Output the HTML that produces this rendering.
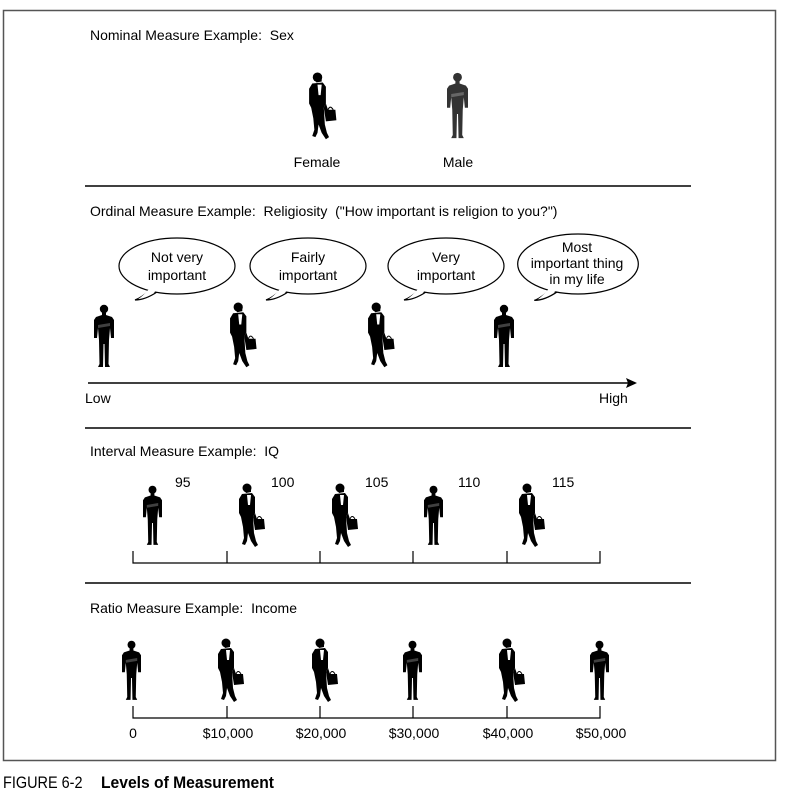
<!DOCTYPE html>
<html><head><meta charset="utf-8"><style>
body{margin:0;background:#fff;width:788px;height:798px;position:relative;overflow:hidden;font-family:"Liberation Sans",Arial,sans-serif;color:#000}
.t{position:absolute;font-size:14px;white-space:nowrap}
.c{transform:translateX(-50%)}
</style></head><body>
<svg width="788" height="798" style="position:absolute;left:0;top:0">
<defs>
<g id="m">
<circle cx="10" cy="5" r="4.2"/>
<path d="M8,8 L12,8 L12,11 L18,13 L20,16 L20,34 L17,34 L16,24 L15,36 L14.5,60 L16,63 L11,63 L10.5,40 L9.5,40 L9,63 L4,63 L5.5,60 L5,36 L4,24 L3,34 L0,34 L0,16 L2,13 L8,11Z"/>
<path d="M4,21 L16,19 L16,22 L4,24Z" fill="#fff" opacity="0.25"/>
</g>
<g id="f">
<circle cx="10" cy="5" r="4.5"/>
<path d="M6,3 Q9,-1 14,3 L14,9 L9,10Z"/>
<path d="M5,11 L15,10 L18,14 L18,30 L16,34 L17,50 L19,58 L21,62 L18,64 L14,58 L11,50 L10,58 L8,62 L5,61 L7,55 L6,44 L4,34 L2,30 L2,16Z"/>
<path d="M10,12 L14,12 L13,22 L11,22Z" fill="#fff"/>
<path d="M16,34 L18,30 L20,36 L27,36 L28,46 L18,47Z"/>
<path d="M20,36 Q22,31 25,36" fill="none" stroke="#000" stroke-width="1"/>
</g>
<g id="b">
<path d="M-27,24 Q-36,32 -42,34 Q-32,34 -20,26Z" fill="#fff" stroke="#000" stroke-width="1.2"/>
<ellipse cx="0" cy="0" rx="58" ry="28" fill="#fff" stroke="#000" stroke-width="1.2"/>
<path d="M-28,23 Q-35,31 -39,33 Q-31,32 -21,25Z" fill="#fff"/>
</g>
</defs>
<rect x="3.5" y="10.5" width="772" height="750" fill="none" stroke="#555" stroke-width="1.5"/>
<g stroke="#000" stroke-width="1.5">
<line x1="85" y1="186" x2="691" y2="186"/>
<line x1="85" y1="428" x2="691" y2="428"/>
<line x1="85" y1="583" x2="691" y2="583"/>
</g>
<use href="#f" transform="translate(307,72) scale(1.05)"/>
<use href="#m" transform="translate(447,72) scale(1.05)" fill="#333"/>
<use href="#b" transform="translate(177,266)"/>
<use href="#b" transform="translate(308,266)"/>
<use href="#b" transform="translate(446,266)"/>
<use href="#b" transform="translate(578,264) scale(1.04,1.07)"/>
<use href="#m" transform="translate(94,304)"/>
<use href="#f" transform="translate(228,302) scale(1.02)"/>
<use href="#f" transform="translate(366,302) scale(1.02)"/>
<use href="#m" transform="translate(494,304)"/>
<line x1="88" y1="383" x2="630" y2="383" stroke="#000" stroke-width="1.5"/>
<path d="M637,383 L626,378 L628,383 L626,388Z"/>
<use href="#m" transform="translate(143,485) scale(0.95)"/>
<use href="#f" transform="translate(237,483)"/>
<use href="#f" transform="translate(330,483)"/>
<use href="#m" transform="translate(424,485) scale(0.95)"/>
<use href="#f" transform="translate(517,483)"/>
<g stroke="#000" stroke-width="1.2" fill="none">
<path d="M133,551 V563 H600 V551 M227,551 V563 M320,551 V563 M413,551 V563 M507,551 V563"/>
<path d="M133,706 V718 H600 V706 M227,706 V718 M320,706 V718 M413,706 V718 M507,706 V718"/>
</g>
<use href="#m" transform="translate(122,640) scale(0.95)"/>
<use href="#f" transform="translate(216,638)"/>
<use href="#f" transform="translate(310,638)"/>
<use href="#m" transform="translate(403,640) scale(0.95)"/>
<use href="#f" transform="translate(497,638)"/>
<use href="#m" transform="translate(590,640) scale(0.95)"/>
</svg>
<div class="t" style="left:90px;top:27px">Nominal Measure Example:&nbsp; Sex</div>
<div class="t c" style="left:317px;top:154px">Female</div>
<div class="t c" style="left:458px;top:154px">Male</div>
<div class="t" style="left:90px;top:203px">Ordinal Measure Example:&nbsp; Religiosity&nbsp; ("How important is religion to you?")</div>
<div class="t c" style="left:177px;top:248px;text-align:center;line-height:18px">Not very<br>important</div>
<div class="t c" style="left:308px;top:248px;text-align:center;line-height:18px">Fairly<br>important</div>
<div class="t c" style="left:446px;top:248px;text-align:center;line-height:18px">Very<br>important</div>
<div class="t c" style="left:577px;top:239px;text-align:center;line-height:16px">Most<br>important thing<br>in my life</div>
<div class="t" style="left:85px;top:390px">Low</div>
<div class="t" style="left:599px;top:390px">High</div>
<div class="t" style="left:90px;top:443px">Interval Measure Example:&nbsp; IQ</div>
<div class="t" style="left:175px;top:474px">95</div>
<div class="t" style="left:271px;top:474px">100</div>
<div class="t" style="left:365px;top:474px">105</div>
<div class="t" style="left:458px;top:474px">110</div>
<div class="t" style="left:552px;top:474px">115</div>
<div class="t" style="left:90px;top:600px">Ratio Measure Example:&nbsp; Income</div>
<div class="t c" style="left:133px;top:725px">0</div>
<div class="t c" style="left:228px;top:725px">$10,000</div>
<div class="t c" style="left:321px;top:725px">$20,000</div>
<div class="t c" style="left:414px;top:725px">$30,000</div>
<div class="t c" style="left:508px;top:725px">$40,000</div>
<div class="t c" style="left:601px;top:725px">$50,000</div>
<div class="t" style="left:3px;top:773px;font-size:17px;transform:scaleX(0.85);transform-origin:left">FIGURE 6-2</div>
<div class="t" style="left:101px;top:773px;font-size:17px;font-weight:bold;transform:scaleX(0.92);transform-origin:left">Levels of Measurement</div>
</body></html>
